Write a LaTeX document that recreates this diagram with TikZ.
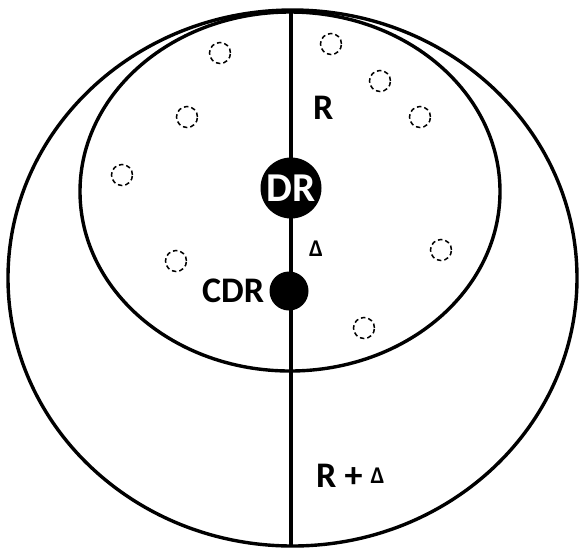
\documentclass[tikz,border=0pt]{standalone}
\usepackage{fontspec}
\setmainfont{Carlito}
\usetikzlibrary{positioning}

\begin{document}
\begin{tikzpicture}[x=1pt, y=-1pt,
    ring/.style={draw, line width=3.4pt},
    hole/.style={circle, draw, line width=1.5pt, dash pattern=on 4.5pt off 3pt, minimum size=21pt, inner sep=0pt},
    dot/.style={circle, fill=black, inner sep=0pt},
    lbl/.style={inner sep=0pt, font=\bfseries\fontsize{36}{36}\selectfont},
    tiny/.style={inner sep=0pt, font=\bfseries\fontsize{24}{24}\selectfont}
]
\useasboundingbox (0,0) rectangle (581,550);
% outer and inner regions
\draw[ring] (292.5,278) ellipse [x radius=284.5, y radius=268];
\draw[ring] (290,191.5) ellipse [x radius=210, y radius=179.5];
\coordinate (top) at (291,10);
\coordinate (bot) at (291,546);
\draw[ring] (top) -- (bot);
% centres
\node[dot, minimum size=61pt] (DR) at (291,188) {\color{white}\bfseries\fontsize{41}{41}\selectfont DR};
\node[dot, minimum size=39pt] (CDR) at (289,291) {};
\node[lbl, left=5pt of CDR] (cdrlbl) {CDR};
\node[lbl, anchor=base west] (R) at (313,119) {R};
\node[tiny, anchor=base west] (delta) at (309,256) {Δ};
\node[lbl, anchor=base west] (Rdelta) at (316,487) {R + \raisebox{4pt}{\bfseries\fontsize{24}{24}\selectfont Δ}};
% empty spots
\foreach \px/\py [count=\i] in {220/53, 187/117, 122/175, 176/261, 331/44, 380/81, 420/117, 441/250, 364/328}
    \node[hole] (h\i) at (\px,\py) {};
\end{tikzpicture}
\end{document}
